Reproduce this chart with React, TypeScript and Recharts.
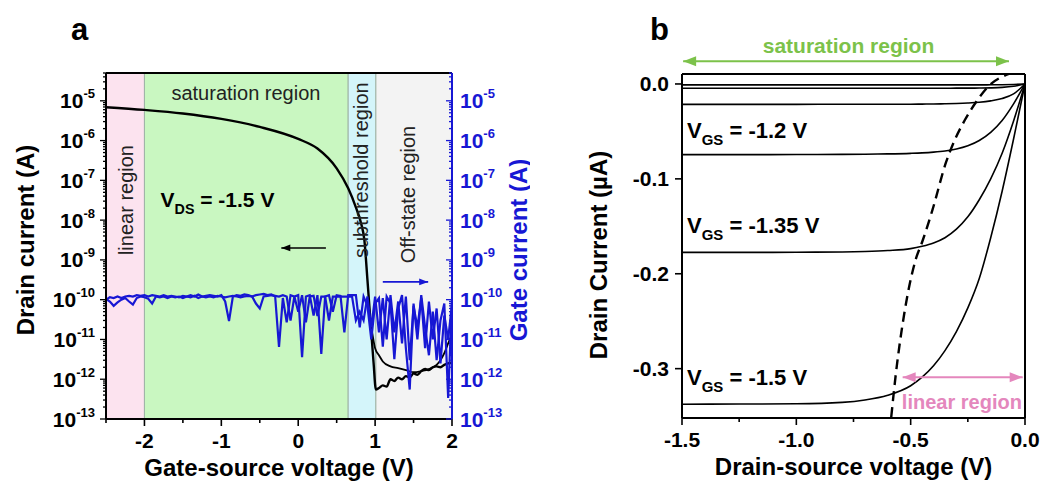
import React from "react";
import {
  LineChart,
  Line,
  XAxis,
  YAxis,
  ReferenceArea,
  ReferenceLine,
  ReferenceDot,
  Label,
} from "recharts";

const FONT = '"Liberation Sans", Arial, Helvetica, sans-serif';
const BLUE = "#1717d4";
const GREEN = "#7cc24a";
const PINK = "#e487bd";

// ---------- panel a : transfer curve (log scale) ----------
const gateV = [
  -2.5, -2.45, -2.4, -2.35, -2.3, -2.25, -2.2, -2.15, -2.1, -2.05,
  -2, -1.95, -1.9, -1.85, -1.8, -1.75, -1.7, -1.65, -1.6, -1.55,
  -1.5, -1.45, -1.4, -1.35, -1.3, -1.25, -1.2, -1.15, -1.1, -1.05,
  -1, -0.95, -0.9, -0.85, -0.8, -0.75, -0.7, -0.65, -0.6, -0.55,
  -0.5, -0.45, -0.4, -0.35, -0.3, -0.25, -0.2, -0.15, -0.1, -0.05,
  0, 0.05, 0.1, 0.15, 0.2, 0.25, 0.3, 0.35, 0.4, 0.45,
  0.5, 0.55, 0.6, 0.65, 0.7, 0.75, 0.8, 0.85, 0.9, 0.95,
  1, 1.05, 1.1, 1.15, 1.2, 1.25, 1.3, 1.35, 1.4, 1.45,
  1.5, 1.55, 1.6, 1.65, 1.7, 1.75, 1.8, 1.85, 1.9, 1.95,
  2,
];
const gateFwd = [
  1.0e-10, 1.15e-10, 1.1e-10, 1.2e-10, 1.1e-10, 1.2e-10, 1.25e-10, 1.2e-10, 1.3e-10, 1.25e-10,
  1.3e-10, 1.2e-10, 1.3e-10, 1.25e-10, 1.2e-10, 1.3e-10, 1.2e-10, 1.25e-10, 1.2e-10, 1.15e-10,
  1.25e-10, 1.2e-10, 1.3e-10, 1.2e-10, 1.35e-10, 1.2e-10, 1.25e-10, 1.3e-10, 1.25e-10, 1.2e-10,
  1.3e-10, 9e-11, 2.9e-11, 1.2e-10, 1.3e-10, 1.25e-10, 1.35e-10, 1.3e-10, 1.2e-10, 1.3e-10,
  1.35e-10, 1.4e-10, 1.3e-10, 1.35e-10, 1.2e-10, 6.5e-12, 1.1e-10, 2.7e-11, 1.3e-10, 1.2e-10,
  1.3e-10, 3.6e-12, 1.2e-10, 1.3e-10, 4e-11, 1.3e-10, 4.3e-12, 1.2e-10, 1.3e-10, 5e-11,
  1.3e-10, 1.25e-10, 1.5e-11, 1.3e-10, 1.3e-10, 1.3e-10, 2e-11, 1.2e-10, 7e-11, 1e-11,
  8e-11, 1.1e-10, 6.6e-12, 1.2e-10, 8e-11, 3.2e-12, 6e-11, 1.3e-10, 6e-12, 5.5e-13,
  8e-11, 1e-11, 1.3e-10, 2e-11, 4e-12, 5e-11, 3e-12, 3e-11, 8e-11, 3.4e-13,
  1e-10,
];
const gateRev = [
  1.05e-10, 9e-11, 7e-11, 8.5e-11, 1.0e-10, 1.1e-10, 9e-11, 7.5e-11, 1.1e-10, 1.2e-10,
  1.15e-10, 1.05e-10, 8e-11, 1.2e-10, 1.15e-10, 1.2e-10, 1.1e-10, 1.2e-10, 1.15e-10, 1.2e-10,
  1.1e-10, 1.2e-10, 1.15e-10, 1.25e-10, 1.1e-10, 1.2e-10, 1.15e-10, 1.2e-10, 1.15e-10, 1.25e-10,
  1.2e-10, 1.15e-10, 1.2e-10, 1.25e-10, 1.2e-10, 1.15e-10, 1.2e-10, 1.25e-10, 1.2e-10, 8e-11,
  6e-11, 1.2e-10, 1.25e-10, 1.3e-10, 1.25e-10, 1.2e-10, 1.3e-10, 1.2e-10, 3e-11, 1.2e-10,
  5e-11, 1.3e-10, 2.7e-11, 1.2e-10, 1.25e-10, 3.9e-11, 1.2e-10, 1.2e-10, 3e-11, 1.2e-10,
  1.2e-10, 1.2e-10, 1.2e-10, 1.2e-10, 1.2e-10, 3e-11, 5e-11, 3e-11, 1.2e-10, 2e-11,
  1.2e-10, 1.5e-11, 1.1e-10, 1e-11, 1.3e-10, 1.5e-11, 9e-11, 8e-12, 1.2e-10, 3e-12,
  7e-11, 2e-11, 1.1e-10, 6e-12, 9e-11, 1e-11, 6e-11, 2.5e-12, 4e-11, 1e-11,
  8e-11,
];
const drainFwdV = [
  -2.5, -2, -1.5, -1, -0.5, 0, 0.25, 0.5, 0.65, 0.75, 0.82, 0.86, 0.9, 0.94, 0.98, 1.01,
  1.05, 1.1, 1.15, 1.2, 1.25, 1.3, 1.35, 1.4, 1.45, 1.5, 1.55, 1.6, 1.65, 1.7, 1.75, 1.8, 1.85, 1.9, 1.95, 2,
];
const drainFwd = [
  6.9e-6, 5.9e-6, 4.8e-6, 3.5e-6, 2.2e-6, 1.1e-6, 6.3e-7, 2e-7, 6.3e-8, 2.1e-8, 8e-9, 3.2e-9, 3.2e-10, 2.8e-11, 2.6e-12, 5.5e-13,
  6e-13, 7e-13, 6.5e-13, 1e-12, 9e-13, 1.1e-12, 1e-12, 1.2e-12, 1.1e-12, 1.4e-12, 1.3e-12, 1.6e-12, 1.8e-12, 1.7e-12, 2e-12, 2.1e-12, 2e-12, 2.3e-12, 2.5e-12, 2.6e-12,
];
const drainRevV = [0.94, 0.97, 1.0, 1.05, 1.1, 1.2, 1.3, 1.4, 1.5, 1.6, 1.7, 1.8, 1.85, 1.9, 1.95, 2.0];
const drainRev = [
  2.8e-11, 1.2e-11, 6e-12, 4e-12, 2.8e-12, 2.1e-12, 1.9e-12, 1.7e-12, 1.5e-12, 1.6e-12, 1.8e-12, 2.3e-12, 3e-12, 4.5e-12, 8e-12, 1.3e-11,
];

const decades = [1e-13, 1e-12, 1e-11, 1e-10, 1e-9, 1e-8, 1e-7, 1e-6, 1e-5];
const logMax = 5e-5;
const logTicks = decades
  .flatMap((d) => [1, 2, 3, 4, 5, 6, 7, 8, 9].map((k) => k * d))
  .filter((t) => t <= logMax * 1.0001);
const xTicksA = [-2.5, -2, -1.5, -1, -0.5, 0, 0.5, 1, 1.5, 2];
const xMajorsA = [-2, -1, 0, 1, 2];

const regionEdges = [-2.5, -2.0, 0.65, 1.01, 2.0];
const regionFills = ["#fce3ef", "#c9f7c1", "#d4f5fa", "#f3f3f3"];

// ---------- panel b : output curves ----------
const vds = [-1.5, -1.25, -1, -0.8, -0.7, -0.6, -0.5, -0.45, -0.4, -0.35, -0.3, -0.25, -0.2, -0.15, -0.1, -0.05, 0];
const idA = [-0.001, -0.001, -0.001, -0.001, -0.001, -0.001, -0.001, -0.001, -0.001, -0.001, -0.001, -0.001, -0.001, -0.0009, -0.0008, -0.0005, 0];
const idB = [-0.0045, -0.0045, -0.0045, -0.0045, -0.0045, -0.0045, -0.0045, -0.0045, -0.0045, -0.0045, -0.0044, -0.0044, -0.0043, -0.0041, -0.0036, -0.0024, 0];
const idC = [-0.0215, -0.0215, -0.0215, -0.0214, -0.0214, -0.0213, -0.0213, -0.0212, -0.0211, -0.0209, -0.0206, -0.0201, -0.0193, -0.0178, -0.0153, -0.0105, 0];
const idD = [-0.0745, -0.0745, -0.0744, -0.0742, -0.074, -0.0737, -0.0731, -0.0726, -0.0718, -0.0706, -0.0686, -0.0652, -0.0596, -0.051, -0.0385, -0.021, 0];
const idE = [-0.1775, -0.1775, -0.1773, -0.177, -0.1765, -0.1755, -0.1735, -0.171, -0.1675, -0.162, -0.153, -0.14, -0.122, -0.1, -0.073, -0.039, 0];
const idF = [-0.3375, -0.3373, -0.337, -0.3355, -0.333, -0.328, -0.318, -0.309, -0.297, -0.281, -0.261, -0.236, -0.205, -0.162, -0.113, -0.058, 0];
const dashV = [-0.585, -0.566, -0.53, -0.478, -0.449, -0.405, -0.346, -0.307, -0.263, -0.211, -0.162, -0.071];
const dashI = [-0.351, -0.308, -0.245, -0.185, -0.166, -0.133, -0.083, -0.059, -0.038, -0.018, -0.003, 0.0105];
const xTicksB = [-1.5, -1.25, -1, -0.75, -0.5, -0.25, 0];
const xMajorsB = [-1.5, -1, -0.5, 0];
const yTicksB = [0, -0.1, -0.2, -0.3];
const yDomainB: [number, number] = [-0.352, 0.0105];

const rows = (xs: number[], ys: number[]) => xs.map((v, k) => ({ v, i: ys[k] }));

// ---------- tick renderers ----------
const bottomTick = (majors: number[], fmt: (v: number) => string) => (p: any) => {
  const v = p.payload.value as number;
  const major = majors.some((m) => Math.abs(m - v) < 1e-9);
  return (
    <g>
      <line x1={p.x} x2={p.x} y1={p.y} y2={p.y + (major ? 7 : 4)} stroke="#000" strokeWidth={1.6} />
      {major && (
        <text x={p.x} y={p.y + 29} textAnchor="middle" fontFamily={FONT} fontWeight="bold" fontSize={21} fill="#000">
          {fmt(v)}
        </text>
      )}
    </g>
  );
};

const logTick = (side: "left" | "right", color: string) => (p: any) => {
  const v = p.payload.value as number;
  const lg = Math.log10(v);
  const ex = Math.round(lg);
  const major = Math.abs(lg - ex) < 1e-6;
  const len = major ? 6 : 3;
  return (
    <g>
      <line x1={p.x} x2={p.x - len} y1={p.y} y2={p.y} stroke={color} strokeWidth={1.3} />
      {major && (
        <text
          x={side === "left" ? p.x - 11 : p.x + 8}
          y={p.y + 7.5}
          textAnchor={side === "left" ? "end" : "start"}
          fill={color}
          fontFamily={FONT}
          fontWeight="bold"
        >
          <tspan fontSize={21}>10</tspan>
          <tspan fontSize={13} dy={-10}>{ex}</tspan>
        </text>
      )}
    </g>
  );
};

const leftLinTick = (p: any) => {
  const v = p.payload.value as number;
  return (
    <g>
      <line x1={p.x} x2={p.x - 7} y1={p.y} y2={p.y} stroke="#000" strokeWidth={1.6} />
      <text x={p.x - 13} y={p.y + 7.5} textAnchor="end" fontFamily={FONT} fontWeight="bold" fontSize={21} fill="#000">
        {v.toFixed(1)}
      </text>
    </g>
  );
};

// ---------- annotation helpers ----------
const arrow = (color: string, both: boolean, w: number, head: number) => (p: any) => {
  const { x1, y1, x2, y2 } = p;
  const a = Math.atan2(y2 - y1, x2 - x1);
  const tri = (x: number, y: number, ang: number) => {
    const bx = x - head * Math.cos(ang);
    const by = y - head * Math.sin(ang);
    const hw = head * 0.38;
    return `${x},${y} ${bx - hw * Math.sin(ang)},${by + hw * Math.cos(ang)} ${bx + hw * Math.sin(ang)},${by - hw * Math.cos(ang)}`;
  };
  return (
    <g>
      <line x1={x1} y1={y1} x2={x2} y2={y2} stroke={color} strokeWidth={w} />
      <polygon points={tri(x2, y2, a)} fill={color} />
      {both && <polygon points={tri(x1, y1, a + Math.PI)} fill={color} />}
    </g>
  );
};

const note = (
  content: React.ReactNode,
  o: { anchor?: "start" | "middle" | "end"; rotate?: boolean; size?: number; bold?: boolean; color?: string; central?: boolean }
) => (p: any) => (
  <text
    x={p.cx}
    y={p.cy}
    textAnchor={o.anchor || "middle"}
    dominantBaseline={o.central ? "central" : undefined}
    transform={o.rotate ? `rotate(-90 ${p.cx} ${p.cy})` : undefined}
    fontFamily={FONT}
    fontSize={o.size || 20}
    fontWeight={o.bold ? "bold" : "normal"}
    fill={o.color || "#222"}
  >
    {content}
  </text>
);

const subLabel = (main: string, sub: string, rest: string, size: number) => (
  <>
    <tspan>{main}</tspan>
    <tspan fontSize={size * 0.68} dy={7}>{sub}</tspan>
    <tspan dy={-7}>{"\u00a0" + rest}</tspan>
  </>
);

function PanelA() {
  return (
    <LineChart width={530} height={481} margin={{ top: 73, right: 0, bottom: 0, left: 0 }}>
      <XAxis
        type="number"
        dataKey="v"
        domain={[-2.5, 2]}
        ticks={xTicksA}
        interval={0}
        height={62}
        tickSize={0}
        tickMargin={0}
        tickLine={false}
        tick={bottomTick(xMajorsA, (v) => String(v))}
        axisLine={{ stroke: "#000", strokeWidth: 2 }}
        allowDataOverflow
      >
        <Label
          content={(lp: any) => (
            <text x={lp.viewBox.x + lp.viewBox.width / 2} y={lp.viewBox.y + 57} textAnchor="middle" fontFamily={FONT} fontWeight="bold" fontSize={24} fill="#000">
              Gate-source voltage (V)
            </text>
          )}
        />
      </XAxis>
      <YAxis
        yAxisId="left"
        scale="log"
        type="number"
        domain={[1e-13, logMax]}
        ticks={logTicks}
        interval={0}
        width={106}
        tickSize={0}
        tickMargin={0}
        tickLine={false}
        tick={logTick("left", "#000")}
        axisLine={{ stroke: "#000", strokeWidth: 2 }}
        allowDataOverflow
      >
        <Label
          content={(lp: any) => {
            const cx = lp.viewBox.x + 25;
            const cy = lp.viewBox.y + lp.viewBox.height / 2 - 6;
            return (
              <text x={cx} y={cy} transform={`rotate(-90 ${cx} ${cy})`} textAnchor="middle" dominantBaseline="central" fontFamily={FONT} fontWeight="bold" fontSize={24} fill="#000">
                Drain current (A)
              </text>
            );
          }}
        />
      </YAxis>
      <YAxis
        yAxisId="right"
        orientation="right"
        scale="log"
        type="number"
        domain={[1e-13, logMax]}
        ticks={logTicks}
        interval={0}
        width={78}
        tickSize={0}
        tickMargin={0}
        tickLine={false}
        tick={logTick("right", BLUE)}
        axisLine={{ stroke: BLUE, strokeWidth: 2 }}
        allowDataOverflow
      >
        <Label
          content={(lp: any) => {
            const cx = lp.viewBox.x + 66;
            const cy = lp.viewBox.y + lp.viewBox.height / 2 + 4;
            return (
              <text x={cx} y={cy} transform={`rotate(-90 ${cx} ${cy})`} textAnchor="middle" dominantBaseline="central" fontFamily={FONT} fontWeight="bold" fontSize={24} fill={BLUE}>
                Gate current (A)
              </text>
            );
          }}
        />
      </YAxis>

      {regionFills.map((f, k) => (
        <ReferenceArea
          key={f}
          yAxisId="left"
          x1={regionEdges[k]}
          x2={regionEdges[k + 1]}
          fill={f}
          fillOpacity={1}
          stroke="#9fb3a6"
          strokeWidth={1}
        />
      ))}
      <ReferenceLine yAxisId="left" y={logMax} stroke="#000" strokeWidth={2} />

      <ReferenceDot yAxisId="left" x={-2.24} y={3.2e-8} r={0} shape={note("linear region", { rotate: true, central: true })} />
      <ReferenceDot yAxisId="left" x={-0.68} y={1.6e-5} r={0} shape={note("saturation region", { central: true })} />
      <ReferenceDot yAxisId="left" x={0.82} y={1.8e-7} r={0} shape={note("subthreshold region", { rotate: true, central: true })} />
      <ReferenceDot yAxisId="left" x={1.43} y={4.4e-8} r={0} shape={note("Off-state region", { rotate: true, central: true })} />
      <ReferenceDot
        yAxisId="left"
        x={-1.79}
        y={2.1e-8}
        r={0}
        shape={note(subLabel("V", "DS", "= -1.5 V", 21), { anchor: "start", bold: true, size: 21, color: "#000" })}
      />

      <Line yAxisId="left" data={rows(drainRevV, drainRev)} dataKey="i" type="monotone" stroke="#000" strokeWidth={1.8} dot={false} isAnimationActive={false} />
      <Line yAxisId="left" data={rows(drainFwdV, drainFwd)} dataKey="i" type="monotone" stroke="#000" strokeWidth={2.4} dot={false} isAnimationActive={false} />
      <Line yAxisId="right" data={rows(gateV, gateRev)} dataKey="i" type="linear" stroke={BLUE} strokeWidth={2.2} dot={false} isAnimationActive={false} />
      <Line yAxisId="right" data={rows(gateV, gateFwd)} dataKey="i" type="linear" stroke={BLUE} strokeWidth={2.2} dot={false} isAnimationActive={false} />

      <ReferenceLine
        yAxisId="left"
        segment={[{ x: 0.36, y: 2e-9 }, { x: -0.22, y: 2e-9 }]}
        shape={arrow("#000", false, 1.6, 9)}
      />
      <ReferenceLine
        yAxisId="right"
        segment={[{ x: 1.1, y: 2.8e-10 }, { x: 1.69, y: 2.8e-10 }]}
        shape={arrow(BLUE, false, 1.6, 9)}
      />
    </LineChart>
  );
}

function PanelB() {
  const curves = [idA, idB, idC, idD, idE, idF];
  return (
    <LineChart width={515} height={481} margin={{ top: 74, right: 20, bottom: 0, left: 0 }}>
      <XAxis
        type="number"
        dataKey="v"
        domain={[-1.5, 0]}
        ticks={xTicksB}
        interval={0}
        height={63}
        tickSize={0}
        tickMargin={0}
        tickLine={false}
        tick={bottomTick(xMajorsB, (v) => v.toFixed(1))}
        axisLine={{ stroke: "#000", strokeWidth: 2 }}
        allowDataOverflow
      >
        <Label
          content={(lp: any) => (
            <text x={lp.viewBox.x + lp.viewBox.width / 2} y={lp.viewBox.y + 57} textAnchor="middle" fontFamily={FONT} fontWeight="bold" fontSize={24} fill="#000">
              Drain-source voltage (V)
            </text>
          )}
        />
      </XAxis>
      <YAxis
        type="number"
        domain={yDomainB}
        ticks={yTicksB}
        interval={0}
        width={152}
        tickSize={0}
        tickMargin={0}
        tickLine={false}
        tick={leftLinTick}
        axisLine={{ stroke: "#000", strokeWidth: 2 }}
        allowDataOverflow
      >
        <Label
          content={(lp: any) => {
            const cx = lp.viewBox.x + 68;
            const cy = lp.viewBox.y + lp.viewBox.height / 2 + 9;
            return (
              <text x={cx} y={cy} transform={`rotate(-90 ${cx} ${cy})`} textAnchor="middle" dominantBaseline="central" fontFamily={FONT} fontWeight="bold" fontSize={24} fill="#000">
                Drain Current (µA)
              </text>
            );
          }}
        />
      </YAxis>
      <ReferenceLine y={yDomainB[1]} stroke="#000" strokeWidth={2} />
      <ReferenceLine x={0} stroke="#000" strokeWidth={2} />

      {curves.map((c, k) => (
        <Line key={k} data={rows(vds, c)} dataKey="i" type="monotone" stroke="#000" strokeWidth={1.6} dot={false} isAnimationActive={false} />
      ))}
      <Line data={rows(dashV, dashI)} dataKey="i" type="monotone" stroke="#000" strokeWidth={2.4} strokeDasharray="10 6" dot={false} isAnimationActive={false} />

      <ReferenceLine
        ifOverflow="visible"
        segment={[{ x: -1.495, y: 0.024 }, { x: -0.07, y: 0.024 }]}
        shape={arrow(GREEN, true, 2, 13)}
      />
      <ReferenceDot ifOverflow="visible" x={-0.772} y={0.0326} r={0} shape={note("saturation region", { bold: true, size: 21, color: GREEN })} />
      <ReferenceLine
        ifOverflow="visible"
        segment={[{ x: -0.535, y: -0.309 }, { x: -0.01, y: -0.309 }]}
        shape={arrow(PINK, true, 2, 13)}
      />
      <ReferenceDot x={-0.276} y={-0.343} r={0} shape={note("linear region", { bold: true, size: 20, color: PINK })} />

      <ReferenceDot x={-1.478} y={-0.057} r={0} shape={note(subLabel("V", "GS", "= -1.2 V", 22), { anchor: "start", bold: true, size: 22, color: "#000" })} />
      <ReferenceDot x={-1.478} y={-0.157} r={0} shape={note(subLabel("V", "GS", "= -1.35 V", 22), { anchor: "start", bold: true, size: 22, color: "#000" })} />
      <ReferenceDot x={-1.478} y={-0.317} r={0} shape={note(subLabel("V", "GS", "= -1.5 V", 22), { anchor: "start", bold: true, size: 22, color: "#000" })} />
    </LineChart>
  );
}

export default function App() {
  return (
    <div style={{ position: "absolute", left: 0, top: 0, width: 1045, height: 481, background: "#fff", overflow: "hidden" }}>
      <div style={{ position: "absolute", left: 0, top: 0 }}>
        <PanelA />
      </div>
      <div style={{ position: "absolute", left: 530, top: 0 }}>
        <PanelB />
      </div>
      <svg width={1045} height={481} style={{ position: "absolute", left: 0, top: 0, pointerEvents: "none" }}>
        <text x={71} y={40} fontFamily={FONT} fontWeight="bold" fontSize={31} fill="#000">a</text>
        <text x={650} y={40} fontFamily={FONT} fontWeight="bold" fontSize={31} fill="#000">b</text>
      </svg>
    </div>
  );
}
